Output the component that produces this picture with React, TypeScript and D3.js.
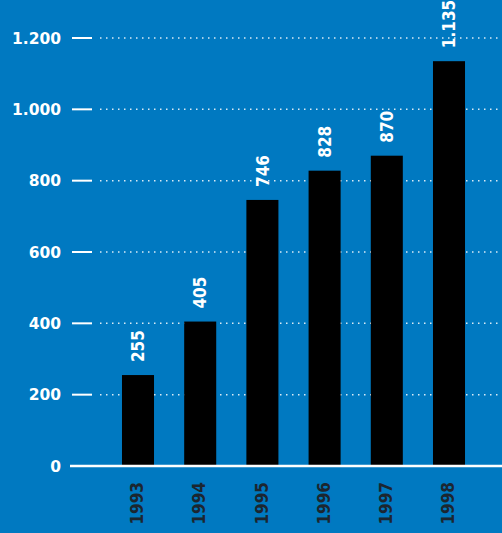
import React from "react";
import * as d3 from "d3";

const years = ["1993", "1994", "1995", "1996", "1997", "1998"];
const values = [255, 405, 746, 828, 870, 1135];
const yTicks = [0, 200, 400, 600, 800, 1000, 1200];

const W = 502;
const H = 533;
const BG = "#0079C1";

const fmt = (v: number) => d3.format(",")(v).replace(/,/g, ".");

export default function App() {
  const x = d3
    .scaleBand<string>()
    .domain(years)
    .range([106.9, 480.1])
    .paddingInner(0.485)
    .paddingOuter(0.2425);
  const y = d3.scaleLinear().domain([0, 1200]).range([466, 38]);
  const bw = x.bandwidth();

  return (
    <svg
      width={W}
      height={H}
      style={{ position: "absolute", left: 0, top: 0, display: "block" }}
    >
      <rect x={0} y={0} width={W} height={H} fill={BG} />
      {yTicks.map((t) => (
        <g key={t}>
          {t > 0 && (
            <line
              x1={100}
              x2={W}
              y1={y(t)}
              y2={y(t)}
              stroke="#ffffff"
              strokeOpacity={0.85}
              strokeWidth={1.5}
              strokeDasharray="1.5 4.5"
            />
          )}
          {t > 0 && (
            <line x1={72} x2={92} y1={y(t)} y2={y(t)} stroke="#fff" strokeWidth={2} />
          )}
          <text
            x={61}
            y={y(t)}
            dy="0.36em"
            textAnchor="end"
            fill="#fff"
            fontFamily="DejaVu Sans"
            fontWeight="bold"
            fontSize={15.5}
          >
            {fmt(t)}
          </text>
        </g>
      ))}
      {years.map((yr, i) => {
        const x0 = x(yr)!;
        const cx = x0 + bw / 2;
        const top = y(values[i]);
        return (
          <g key={yr}>
            <rect x={x0} y={top} width={bw} height={y(0) - top} fill="#000" />
            <text
              transform={`translate(${cx},${top - 13}) rotate(-90)`}
              dy="0.36em"
              textAnchor="start"
              fill="#fff"
              fontFamily="DejaVu Sans Condensed"
              fontWeight="bold"
              fontSize={17}
            >
              {fmt(values[i])}
            </text>
            <text
              transform={`translate(${cx - 1},${482}) rotate(-90)`}
              dy="0.36em"
              textAnchor="end"
              fill="#1c2630"
              fontFamily="DejaVu Sans Condensed"
              fontWeight="bold"
              fontSize={17}
            >
              {yr}
            </text>
          </g>
        );
      })}
      <line x1={70} x2={W} y1={y(0)} y2={y(0)} stroke="#fff" strokeWidth={2.5} />
    </svg>
  );
}
